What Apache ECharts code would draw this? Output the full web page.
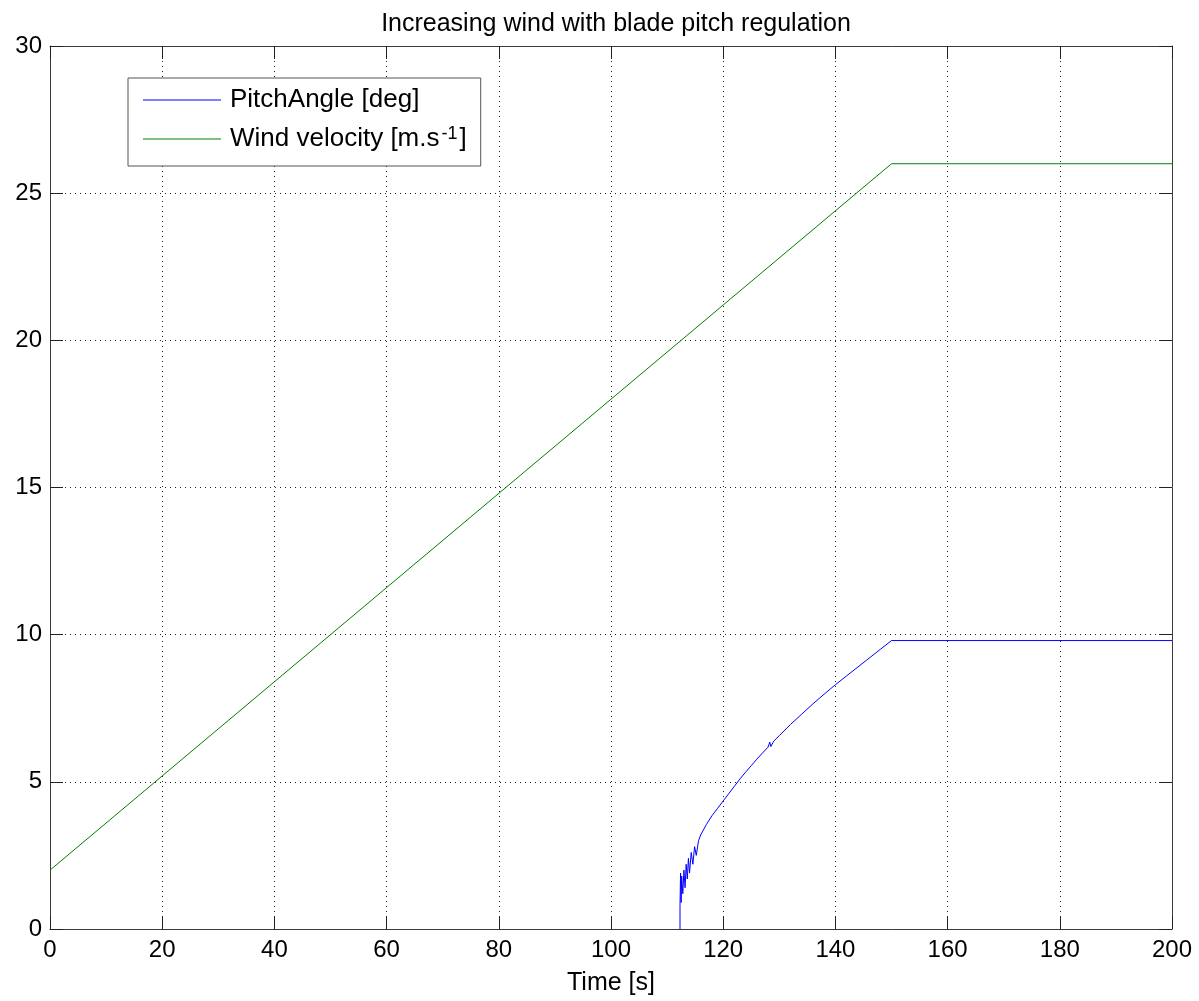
<!DOCTYPE html>
<html>
<head>
<meta charset="utf-8">
<title>Increasing wind with blade pitch regulation</title>
<script src="https://cdn.jsdelivr.net/npm/echarts@6/dist/echarts.min.js"></script>
<style>
  html, body { margin: 0; padding: 0; background: #fff; }
  #chart { width: 1199px; height: 1001px; }
</style>
</head>
<body>
<div id="chart"></div>
<script>
// Time axis ticks and value axis ticks
const timeTicks = [0, 20, 40, 60, 80, 100, 120, 140, 160, 180, 200];
const valueTicks = [0, 5, 10, 15, 20, 25, 30];

// Wind velocity [m/s]: ramp from 2 to 26 over 150 s, then constant
const windTime = [0, 150, 200];
const windValue = [2, 26, 26];

// Blade pitch angle [deg]: regulation kicks in around t = 112 s
const pitchTime = [112.3, 112.3, 112.4, 112.5, 112.6, 112.8, 113.0, 113.2, 113.4, 113.6, 113.8, 114.0,
  114.3, 114.6, 114.9, 115.2, 115.6, 116, 117, 118, 119, 120, 121, 122, 123, 124, 125, 126, 127, 128,
  128.3, 128.5, 129, 130, 132, 134, 136, 138, 140, 142, 144, 146, 148, 150, 200];
const pitchValue = [0, 0.8, 1.9, 0.9, 1.8, 1.2, 2.0, 1.4, 2.2, 1.7, 2.4, 1.9,
  2.6, 2.2, 2.8, 2.5, 3.0, 3.2, 3.55, 3.85, 4.1, 4.35, 4.6, 4.85, 5.1, 5.33, 5.55, 5.77, 5.98, 6.18,
  6.35, 6.2, 6.38, 6.57, 6.95, 7.3, 7.65, 7.98, 8.3, 8.6, 8.9, 9.2, 9.5, 9.8, 9.8];

const pairs = (xs, ys) => xs.map((x, i) => [x, ys[i]]);

const axisColor = '#3c3c3c';
const font = 'Liberation Sans, Arial, Helvetica, sans-serif';

const chart = echarts.init(document.getElementById('chart'), null, { renderer: 'canvas' });

const xBase = {
  type: 'value', min: timeTicks[0], max: timeTicks[timeTicks.length - 1], interval: 20,
  axisLine: { show: true, onZero: false, lineStyle: { color: axisColor, width: 1 } },
  axisTick: { show: true, inside: true, length: 13, lineStyle: { color: '#222', width: 1 } }
};
const yBase = {
  type: 'value', min: valueTicks[0], max: valueTicks[valueTicks.length - 1], interval: 5,
  axisLine: { show: true, onZero: false, lineStyle: { color: axisColor, width: 1 } },
  axisTick: { show: true, inside: true, length: 13, lineStyle: { color: '#222', width: 1 } }
};

chart.setOption({
  animation: false,
  backgroundColor: '#ffffff',
  title: {
    text: 'Increasing wind with blade pitch regulation',
    left: 611, top: 7, textAlign: 'center',
    textStyle: { fontFamily: font, fontSize: 25, fontWeight: 'normal', color: '#000' }
  },
  grid: { left: 50, right: 27, top: 46, bottom: 70, containLabel: false },
  legend: {
    orient: 'vertical', left: 128, top: 78,
    padding: [8, 14, 9, 15],
    itemWidth: 78, itemHeight: 1, itemGap: 11,
    icon: 'rect',
    backgroundColor: '#fff', borderColor: '#555', borderWidth: 1, borderRadius: 0,
    textStyle: {
      fontFamily: font, fontSize: 26, color: '#000', lineHeight: 28,
      padding: [0, 0, 0, 4],
      rich: {
        sup: { fontFamily: font, fontSize: 18, lineHeight: 28, verticalAlign: 'top', padding: [0, 2, 14, 2], color: '#000' },
        br: { fontFamily: font, fontSize: 26, lineHeight: 28, color: '#000' }
      }
    },
    formatter: name => name === 'Wind velocity' ? 'Wind velocity [m.s{sup|-1}{br|]}' : 'PitchAngle [deg]',
    data: ['PitchAngle', 'Wind velocity']
  },
  xAxis: [
    Object.assign({}, xBase, {
      position: 'bottom',
      name: 'Time [s]', nameLocation: 'middle', nameGap: 42,
      nameTextStyle: { fontFamily: font, fontSize: 25, color: '#000' },
      axisLabel: { show: true, margin: 9, fontFamily: font, fontSize: 24, color: '#000' },
      splitLine: { show: true, lineStyle: { type: [1, 4], color: '#222', width: 1 } }
    }),
    Object.assign({}, xBase, {
      position: 'top', axisLabel: { show: false }, splitLine: { show: false }
    })
  ],
  yAxis: [
    Object.assign({}, yBase, {
      position: 'left',
      axisLabel: { show: true, margin: 8, fontFamily: font, fontSize: 24, color: '#000' },
      splitLine: { show: true, lineStyle: { type: [1, 4], color: '#222', width: 1 } }
    }),
    Object.assign({}, yBase, {
      position: 'right', axisLabel: { show: false }, splitLine: { show: false }
    })
  ],
  series: [
    {
      name: 'PitchAngle', type: 'line', xAxisIndex: 0, yAxisIndex: 0,
      data: pairs(pitchTime, pitchValue),
      showSymbol: false, symbol: 'none', smooth: false,
      lineStyle: { color: '#0000ff', width: 1 }, itemStyle: { color: '#0000ff' },
      z: 3
    },
    {
      name: 'Wind velocity', type: 'line', xAxisIndex: 0, yAxisIndex: 0,
      data: pairs(windTime, windValue),
      showSymbol: false, symbol: 'none', smooth: false,
      lineStyle: { color: '#008000', width: 1 }, itemStyle: { color: '#008000' },
      z: 3
    }
  ]
});
</script>
</body>
</html>
